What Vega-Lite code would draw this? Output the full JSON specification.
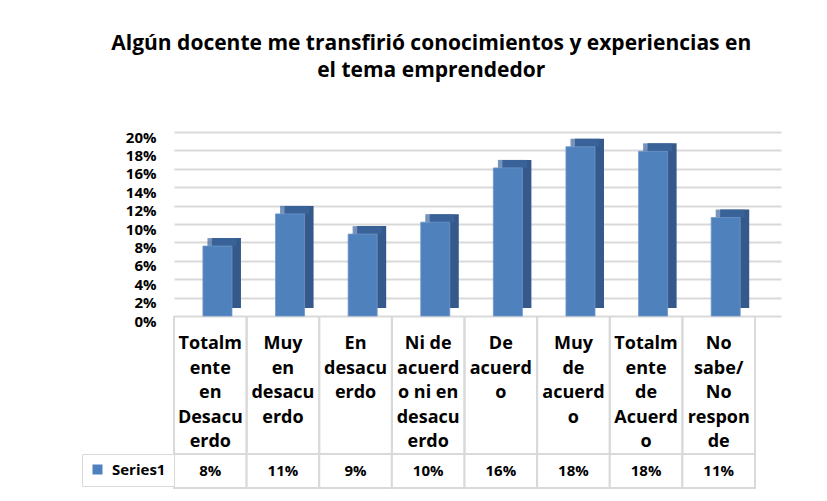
{
  "$schema": "https://vega.github.io/schema/vega-lite/v6.json",
  "padding": {"left": 81, "top": 33, "right": 20, "bottom": 10},
  "bounds": "flush",
  "spacing": 0,
  "resolve": {"legend": {"color": "independent"}},
  "title": {
    "text": ["Algún docente me transfirió conocimientos y experiencias en", "el tema emprendedor"],
    "fontSize": 21, "fontWeight": "bold", "lineHeight": 27, "offset": 49, "color": "#000000", "font": "Open Sans", "anchor": "middle"
  },
  "data": {"values": [
    {"cat": "Totalmente en Desacuerdo", "lines": ["Totalm", "ente", "en", "Desacu", "erdo"], "value": 0.076, "series": "Series1"},
    {"cat": "Muy en desacuerdo", "lines": ["Muy", "en", "desacu", "erdo"], "value": 0.111, "series": "Series1"},
    {"cat": "En desacuerdo", "lines": ["En", "desacu", "erdo"], "value": 0.089, "series": "Series1"},
    {"cat": "Ni de acuerdo ni en desacuerdo", "lines": ["Ni de", "acuerd", "o ni en", "desacu", "erdo"], "value": 0.102, "series": "Series1"},
    {"cat": "De acuerdo", "lines": ["De", "acuerd", "o"], "value": 0.161, "series": "Series1"},
    {"cat": "Muy de acuerdo", "lines": ["Muy", "de", "acuerd", "o"], "value": 0.184, "series": "Series1"},
    {"cat": "Totalmente de Acuerdo", "lines": ["Totalm", "ente", "de", "Acuerd", "o"], "value": 0.179, "series": "Series1"},
    {"cat": "No sabe/No responde", "lines": ["No", "sabe/", "No", "respon", "de"], "value": 0.107, "series": "Series1"}
  ]},
  "vconcat": [
    {
      "width": 607, "height": 184,
      "encoding": {
        "x": {"field": "cat", "type": "nominal", "sort": null, "axis": null,
              "scale": {"paddingInner": 0.6, "paddingOuter": 0.48, "align": 0.415}},
        "y": {"field": "value", "type": "quantitative",
              "scale": {"domain": [0, 0.2], "nice": false},
              "axis": {"title": null, "grid": true, "gridColor": "#D9D9D9", "gridWidth": 2, "ticks": false, "domain": false,
                       "labelFontSize": 15, "labelFontWeight": "bold", "labelColor": "#000000", "labelPadding": 18, "labelOffset": 5,
                       "values": [0, 0.02, 0.04, 0.06, 0.08, 0.1, 0.12, 0.14, 0.16, 0.18, 0.2], "format": ".0%"}}
      },
      "layer": [
        {"mark": {"type": "bar", "color": "#35598A", "xOffset": 9, "yOffset": -8}},
        {"mark": {"type": "tick", "color": "#3C679F", "thickness": 8, "size": 29, "xOffset": 4.5, "yOffset": -4, "orient": "horizontal"}},
        {"mark": {"type": "bar", "color": "#4F81BD", "stroke": "#7096C8", "strokeWidth": 0.8}}
      ]
    },
    {
      "width": 581, "height": 138,
      "layer": [
        {"mark": {"type": "rule", "color": "#D9D9D9", "strokeWidth": 2},
         "encoding": {"x": {"field": "cat", "type": "nominal", "sort": null, "axis": null, "bandPosition": 0,
                            "scale": {"type": "band", "paddingInner": 0, "paddingOuter": 0}}}},
        {"mark": {"type": "rule", "color": "#D9D9D9", "strokeWidth": 2},
         "encoding": {"x": {"field": "cat", "type": "nominal", "sort": null, "axis": null, "bandPosition": 1,
                            "scale": {"type": "band", "paddingInner": 0, "paddingOuter": 0}}}},
        {"mark": {"type": "text", "baseline": "top", "fontSize": 18, "fontWeight": "bold", "lineHeight": 24.5, "yOffset": 19, "color": "#000000"},
         "encoding": {
           "x": {"field": "cat", "type": "nominal", "sort": null, "axis": null,
                 "scale": {"type": "band", "paddingInner": 0, "paddingOuter": 0}},
           "y": {"field": "series", "type": "nominal", "axis": null, "bandPosition": 0,
                 "scale": {"type": "band", "paddingInner": 0, "paddingOuter": 0}},
           "text": {"field": "lines", "type": "nominal"}
         }}
      ]
    },
    {
      "width": 581, "height": 34,
      "layer": [
        {"mark": {"type": "rect", "fill": "#FFFFFF", "stroke": "#D9D9D9", "strokeWidth": 2},
         "encoding": {"x": {"field": "cat", "type": "nominal", "sort": null, "axis": null,
                            "scale": {"type": "band", "paddingInner": 0, "paddingOuter": 0}}}},
        {"mark": {"type": "square", "opacity": 0},
         "encoding": {
           "x": {"field": "cat", "type": "nominal", "sort": null, "axis": null,
                 "scale": {"type": "band", "paddingInner": 0, "paddingOuter": 0}},
           "color": {"field": "series", "type": "nominal", "scale": {"range": ["#4F81BD"]},
                     "legend": {"orient": "left", "title": null, "offset": 0, "padding": 8, "strokeColor": "#D9D9D9", "fillColor": "#FFFFFF",
                                "symbolType": "square", "symbolSize": 100, "symbolOpacity": 1, "symbolStrokeWidth": 0,
                                "labelFontSize": 15, "labelFontWeight": "bold", "labelOffset": 7, "labelColor": "#000000"}}
         }},
        {"mark": {"type": "text", "fontSize": 15, "fontWeight": "bold", "color": "#000000"},
         "encoding": {
           "x": {"field": "cat", "type": "nominal", "sort": null, "axis": null,
                 "scale": {"type": "band", "paddingInner": 0, "paddingOuter": 0}},
           "text": {"field": "value", "type": "quantitative", "format": ".0%"}
         }}
      ]
    }
  ],
  "config": {"view": {"stroke": null}, "font": "Open Sans"}
}
